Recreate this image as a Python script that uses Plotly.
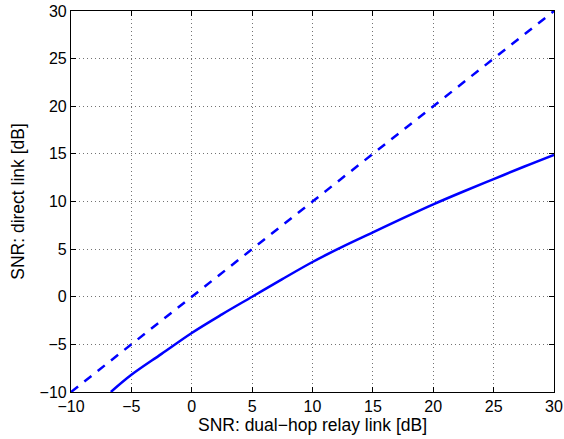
import plotly.graph_objects as go

# Data
relay_snr_db = [-6.7, -5.0, -2.5, 0.0, 2.5, 5.0, 7.5, 10.0, 12.5, 15.0, 17.5, 20.0, 22.5, 25.0, 27.5, 30.0]
direct_snr_db = [-10.0, -8.2, -6.0, -3.8, -1.85, 0.0, 1.85, 3.65, 5.25, 6.75, 8.25, 9.7, 11.05, 12.35, 13.65, 14.9]

ref_x = [-10, 30]
ref_y = [-10, 30]

tick_vals = [-10, -5, 0, 5, 10, 15, 20, 25, 30]

fig = go.Figure()
fig.add_trace(go.Scatter(x=ref_x, y=ref_y, mode="lines",
                         line=dict(color="#0000ff", width=2.5, dash="9px,8px"),
                         showlegend=False))
fig.add_trace(go.Scatter(x=relay_snr_db, y=direct_snr_db, mode="lines",
                         line=dict(color="#0000ff", width=2.5, shape="spline", smoothing=1.0),
                         showlegend=False))

axis_common = dict(
    tickmode="array", tickvals=tick_vals,
    ticks="inside", ticklen=5, tickwidth=1, tickcolor="black",
    showline=True, linecolor="black", linewidth=1.2, mirror="ticks",
    showgrid=True, gridcolor="rgba(0,0,0,0.55)", gridwidth=1, griddash="1px,3px",
    zeroline=False, automargin=False,
    tickfont=dict(family="Liberation Sans, Arial, sans-serif", size=16, color="black"),
)

fig.update_xaxes(range=[-10, 30],
                 title=dict(text="SNR: dual\u2212hop relay link [dB]", standoff=4,
                            font=dict(family="Liberation Sans, Arial, sans-serif", size=17.5, color="black")),
                 **axis_common)
fig.update_yaxes(range=[-10, 30],
                 title=dict(text="SNR: direct link [dB]", standoff=10,
                            font=dict(family="Liberation Sans, Arial, sans-serif", size=17.5, color="black")),
                 **axis_common)

fig.update_layout(
    width=564, height=439,
    margin=dict(l=71, r=10, t=11, b=47, autoexpand=False),
    paper_bgcolor="white", plot_bgcolor="white",
    showlegend=False,
)

fig.write_html("out.html")
